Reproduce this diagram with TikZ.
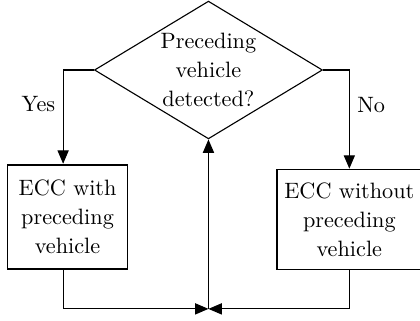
\documentclass[tikz,border=0pt]{standalone}
\usepackage{tikz}
\usetikzlibrary{arrows.meta, positioning, shapes.geometric}

\begin{document}
\begin{tikzpicture}[
        >={Triangle[length=6pt, width=5pt]},
        every node/.style={font=\fontsize{10}{13}\selectfont},
        decision/.style={diamond, draw, line width=0.5pt, aspect=1.65, inner sep=0pt, align=center,
            minimum width=102.6pt, minimum height=62pt},
        block/.style={rectangle, draw, line width=0.8pt, align=center},
        line/.style={line width=0.5pt}
    ]
        % fester Rahmen
        \useasboundingbox (0,0) rectangle (189pt,144pt);

        % Knoten
        \path
            (93.8pt,112.5pt) node[decision] (det) {Preceding\\vehicle\\detected?}
            (30.4pt,46.4pt)  node[block, minimum width=54pt, minimum height=47pt] (with) {ECC with\\preceding\\vehicle}
            (157.2pt,45.2pt) node[block, minimum width=63pt, minimum height=45pt] (without) {ECC without\\preceding\\vehicle};
        \coordinate (merge) at (det.south |- 0,5pt);

        % Verzweigung
        \draw[line, ->] (det.west) -| ([xshift=-2pt]with.north) node[pos=0.68, left] {Yes};
        \draw[line, ->] (det.east) -| (without.north) node[pos=0.68, right] {No};

        % Rueckfuehrung
        \draw[line, ->] ([xshift=-2pt]with.south) |- (merge);
        \draw[line, ->] (without.south) |- (merge);
        \draw[line, ->] (merge) -- (det.south);
    \end{tikzpicture}
\end{document}
